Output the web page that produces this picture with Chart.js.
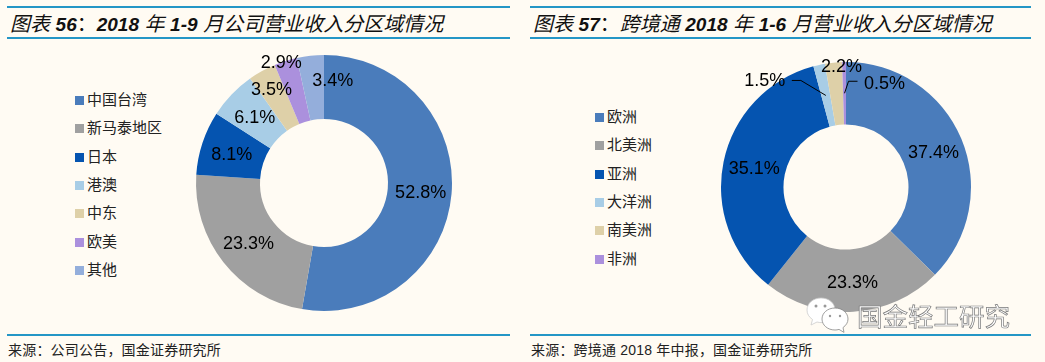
<!DOCTYPE html>
<html>
<head>
<meta charset="utf-8">
<script src="https://cdn.jsdelivr.net/npm/chart.js@4/dist/chart.umd.min.js"></script>
<style>
  html, body { margin: 0; padding: 0; background: #fffbf3; }
  body { position: relative; width: 1045px; height: 362px; overflow: hidden; font-family: "Liberation Sans", "Noto Sans CJK SC", sans-serif; color: #111; }
  .rule { position: absolute; height: 2px; background: #2496c6; }
  .title { position: absolute; top: 10px; font-size: 20px; line-height: 26px; font-style: italic; white-space: pre; }
  .title b { font-weight: bold; font-size: 19px; }
  .title u { text-decoration: none; font-family: "Noto Sans CJK SC"; font-style: normal; }
  .source { position: absolute; top: 341px; font-size: 14px; line-height: 18px; letter-spacing: 0.2px; white-space: pre; color: #222; }
  canvas { position: absolute; }
  .legend { position: absolute; font-size: 15px; }
  .legend div { position: absolute; left: 0; height: 20px; line-height: 20px; white-space: nowrap; }
  .legend i { position: absolute; left: 0; top: 6px; width: 9px; height: 9px; }
  .legend span { position: absolute; left: 12px; top: 0; color: #222; }
  #mark { position: absolute; left: 857px; top: 301px; font-size: 25.5px; line-height: 32px; color: #fff; -webkit-text-stroke: 0.7px #777; white-space: pre; }
  #wechat { position: absolute; left: 804px; top: 296px; }
</style>
</head>
<body>
<div class="rule" style="left:7px;top:6px;width:503px"></div>
<div class="rule" style="left:7px;top:37px;width:503px"></div>
<div class="rule" style="left:7px;top:334px;width:503px"></div>
<div class="rule" style="left:530px;top:6px;width:501px"></div>
<div class="rule" style="left:530px;top:37px;width:501px"></div>
<div class="rule" style="left:530px;top:334px;width:501px"></div>

<div class="title" style="left:10px">图表 <b>56</b><u>&#65306;</u><b>2018</b> 年 <b>1-9</b> 月公司营业收入分区域情况</div>
<div class="title" style="left:533px">图表 <b>57</b><u>&#65306;</u>跨境通 <b>2018</b> 年 <b>1-6</b> 月营业收入分区域情况</div>

<canvas id="left-chart" width="280" height="280" style="left:184px;top:43px"></canvas>
<canvas id="right-chart" width="274" height="274" style="left:709px;top:50px"></canvas>

<div class="legend" id="left-legend" style="left:75px;top:90px"></div>
<div class="legend" id="right-legend" style="left:595px;top:107px"></div>

<svg id="wechat" width="48" height="40" viewBox="0 0 48 40">
  <path d="M17 2C9 2 3 7.5 3 14c0 4 2 7 5.500 9.500L7 29l6-3c1.500.4 3 .6 4 .6 8 0 14-5.600 14-12.600S25 2 17 2z" fill="#fff" stroke="#ccc" stroke-width="0.8"/>
  <circle cx="12" cy="10" r="1.500" fill="#999"/>
  <circle cx="21" cy="10" r="1.500" fill="#999"/>
  <path d="M31 12c-7.500 0-13 5-13 11s5.500 11 13 11c1.500 0 2.500-.2 4-.6l5 3-1-4.800c3-2.200 5-5 5-8.600 0-6-5.500-11-13-11z" fill="#fff" stroke="#888" stroke-width="0.8"/>
  <circle cx="26" cy="20" r="1.200" fill="#999"/>
  <circle cx="36" cy="20" r="1.200" fill="#999"/>
</svg>
<div id="mark">国金轻工研究</div>

<div class="source" style="left:8px">来源&#65306;公司公告&#65292;国金证券研究所</div>
<div class="source" style="left:531px">来源&#65306;跨境通 2018 年中报&#65292;国金证券研究所</div>

<script>
const leftLabels = ['中国台湾', '新马泰地区', '日本', '港澳', '中东', '欧美', '其他'];
const leftValues = [52.8, 23.3, 8.1, 6.1, 3.5, 2.9, 3.4];
const leftColors = ['#4a7cbb', '#a0a0a0', '#0554b0', '#a8cde6', '#ded0a8', '#ab90dd', '#94aedb'];

const rightLabels = ['欧洲', '北美洲', '亚洲', '大洋洲', '南美洲', '非洲'];
const rightValues = [37.4, 23.3, 35.1, 1.5, 2.2, 0.5];
const rightColors = ['#4a7cbb', '#a0a0a0', '#0554b0', '#a8cde6', '#ded0a8', '#ab90dd'];

// label nudges away from the middle of each slice, [dx, dy]
const leftNudges = [[1, 2], [0, 2], [-1, 2], [0, 1], [-6, -9], [-14, -28], [19, -7]];
const rightNudges = [[1, 2], [1, 2], [0, 1], [-61, -14], [5, -27], [40, -9]];

// leader lines, [slice index, elbow dx, elbow dy, end dx, end dy]
const rightLeaders = [[3, -25, -15, -34, -15], [5, 4, -12, 13, -12]];

// draws the percent labels and leader lines on top of the slices
const sliceLabels = {
  id: 'sliceLabels',
  afterDatasetsDraw(chart, args, opts) {
    const ctx = chart.ctx;
    const arcs = chart.getDatasetMeta(0).data;
    const values = chart.data.datasets[0].data;
    ctx.save();
    ctx.strokeStyle = '#000';
    ctx.lineWidth = 1;
    opts.leaders.forEach(l => {
      const p = arcs[l[0]].tooltipPosition();
      ctx.beginPath();
      ctx.moveTo(p.x, p.y);
      ctx.lineTo(p.x + l[1], p.y + l[2]);
      ctx.lineTo(p.x + l[3], p.y + l[4]);
      ctx.stroke();
    });
    ctx.font = '18px "Liberation Sans"';
    ctx.fillStyle = '#000';
    ctx.textAlign = 'center';
    ctx.textBaseline = 'middle';
    arcs.forEach((arc, i) => {
      const p = arc.tooltipPosition();
      ctx.fillText(values[i].toFixed(1) + '%', p.x + opts.nudges[i][0], p.y + opts.nudges[i][1]);
    });
    ctx.restore();
  }
};

function makeDonut(canvasId, labels, values, colors, nudges, leaders) {
  return new Chart(document.getElementById(canvasId), {
    type: 'doughnut',
    data: {
      labels: labels,
      datasets: [{ data: values, backgroundColor: colors, borderWidth: 0 }]
    },
    options: {
      responsive: false,
      animation: false,
      cutout: '50%',
      layout: { padding: 12 },
      plugins: {
        legend: { display: false },
        tooltip: { enabled: false },
        sliceLabels: { nudges: nudges, leaders: leaders }
      }
    },
    plugins: [sliceLabels]
  });
}

function makeLegend(boxId, labels, colors) {
  const box = document.getElementById(boxId);
  labels.forEach((name, i) => {
    const row = document.createElement('div');
    row.style.top = (i * 28.3) + 'px';
    row.innerHTML = '<i style="background:' + colors[i] + '"></i><span>' + name + '</span>';
    box.appendChild(row);
  });
}

makeDonut('left-chart', leftLabels, leftValues, leftColors, leftNudges, []);
makeDonut('right-chart', rightLabels, rightValues, rightColors, rightNudges, rightLeaders);
makeLegend('left-legend', leftLabels, leftColors);
makeLegend('right-legend', rightLabels, rightColors);
</script>
</body>
</html>
